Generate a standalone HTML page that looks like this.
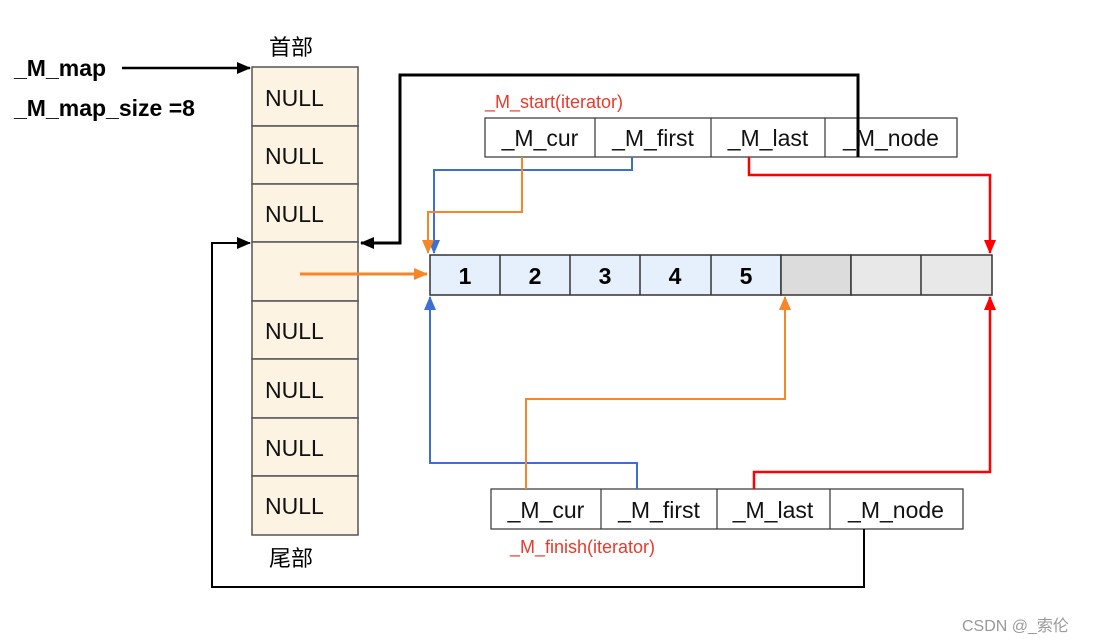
<!DOCTYPE html>
<html><head><meta charset="utf-8"><style>
body{margin:0;background:#fff;}
svg{display:block;font-family:"Liberation Sans","Noto Sans CJK SC",sans-serif;}
</style></head><body>
<svg width="1098" height="643" viewBox="0 0 1098 643" xmlns="http://www.w3.org/2000/svg">
<defs>
<marker id="ak" markerWidth="14" markerHeight="14" refX="13" refY="7" orient="auto" markerUnits="userSpaceOnUse"><path d="M0,1 L14,7 L0,13z" fill="#000"/></marker>
<marker id="ab" markerWidth="14" markerHeight="14" refX="13" refY="7" orient="auto" markerUnits="userSpaceOnUse"><path d="M0,1 L14,7 L0,13z" fill="#3c6fcf"/></marker>
<marker id="ao" markerWidth="14" markerHeight="14" refX="13" refY="7" orient="auto" markerUnits="userSpaceOnUse"><path d="M0,1 L14,7 L0,13z" fill="#f5862a"/></marker>
<marker id="ar" markerWidth="14" markerHeight="14" refX="13" refY="7" orient="auto" markerUnits="userSpaceOnUse"><path d="M0,1 L14,7 L0,13z" fill="#f00"/></marker>
</defs>
<text x="14" y="76" font-size="23" font-weight="bold">_M_map</text>
<text x="14" y="116" font-size="23" font-weight="bold">_M_map_size =8</text>
<text x="269" y="55" font-size="22">首部</text>
<text x="269" y="566" font-size="22">尾部</text>
<line x1="122" y1="68" x2="250" y2="68" stroke="#000" stroke-width="2.5" marker-end="url(#ak)"/>
<g stroke="#555" stroke-width="1.5" fill="#fdf3e3">
<rect x="252" y="67" width="106" height="59"/><rect x="252" y="126" width="106" height="58"/>
<rect x="252" y="184" width="106" height="58"/><rect x="252" y="242" width="106" height="59"/>
<rect x="252" y="301" width="106" height="58"/><rect x="252" y="359" width="106" height="59"/>
<rect x="252" y="418" width="106" height="58"/><rect x="252" y="476" width="106" height="59"/>
</g>
<g font-size="23" fill="#111">
<text x="265" y="106">NULL</text><text x="265" y="164">NULL</text><text x="265" y="222">NULL</text>
<text x="265" y="339">NULL</text><text x="265" y="398">NULL</text><text x="265" y="456">NULL</text><text x="265" y="514">NULL</text>
</g>
<g stroke="#333" stroke-width="1.5">
<rect x="430" y="255" width="351" height="40" fill="#e6f0fc"/>
<rect x="781" y="255" width="70" height="40" fill="#dcdcdc"/>
<rect x="851" y="255" width="141" height="40" fill="#e8e8e8"/>
<line x1="500" y1="255" x2="500" y2="295"/><line x1="570" y1="255" x2="570" y2="295"/>
<line x1="640" y1="255" x2="640" y2="295"/><line x1="711" y1="255" x2="711" y2="295"/>
<line x1="921" y1="255" x2="921" y2="295"/>
</g>
<g font-size="23" font-weight="bold" text-anchor="middle">
<text x="465" y="284">1</text><text x="535" y="284">2</text><text x="605" y="284">3</text><text x="675" y="284">4</text><text x="746" y="284">5</text>
</g>
<text x="485" y="108" font-size="18" fill="#e83a2a">_M_start(iterator)</text>
<g stroke="#333" stroke-width="1.2" fill="#fff">
<rect x="485" y="118" width="472" height="39"/>
<line x1="595" y1="118" x2="595" y2="157"/><line x1="711" y1="118" x2="711" y2="157"/><line x1="825" y1="118" x2="825" y2="157"/>
<rect x="491" y="489" width="472" height="40"/>
<line x1="601" y1="489" x2="601" y2="529"/><line x1="717" y1="489" x2="717" y2="529"/><line x1="830" y1="489" x2="830" y2="529"/>
</g>
<g font-size="23" fill="#111" text-anchor="middle">
<text x="540" y="146">_M_cur</text><text x="653" y="146">_M_first</text><text x="768" y="146">_M_last</text><text x="891" y="146">_M_node</text>
<text x="546" y="518">_M_cur</text><text x="659" y="518">_M_first</text><text x="773" y="518">_M_last</text><text x="896" y="518">_M_node</text>
</g>
<text x="510" y="553" font-size="18" fill="#e83a2a">_M_finish(iterator)</text>
<g fill="none" stroke-width="2.5">
<polyline points="858,157 858,75 400,75 400,243 361,243" stroke="#000" stroke-width="3" marker-end="url(#ak)"/>
<polyline points="632,157 632,170 434,170 434,253" stroke="#3c6fcf" stroke-width="2" marker-end="url(#ab)"/>
<polyline points="522,157 522,212 428,212 428,253" stroke="#f5862a" stroke-width="2" marker-end="url(#ao)"/>
<polyline points="749,157 749,175 990,175 990,253" stroke="#f00" marker-end="url(#ar)"/>
<line x1="300" y1="274" x2="427" y2="274" stroke="#f5862a" stroke-width="3" marker-end="url(#ao)"/>
<polyline points="637,489 637,463 430,463 430,297" stroke="#3c6fcf" stroke-width="2" marker-end="url(#ab)"/>
<polyline points="526,489 526,399 785,399 785,297" stroke="#f5862a" stroke-width="2" marker-end="url(#ao)"/>
<polyline points="754,489 754,472 990,472 990,297" stroke="#f00" marker-end="url(#ar)"/>
<polyline points="864,529 864,587 212,587 212,243 250,243" stroke="#000" stroke-width="2" marker-end="url(#ak)"/>
</g>
<text x="962" y="631" font-size="16" fill="#999">CSDN @_索伦</text>
</svg>
</body></html>
